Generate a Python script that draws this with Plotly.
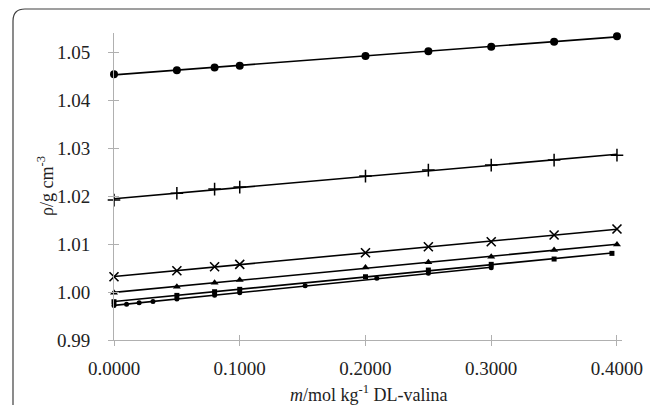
import numpy as np
import plotly.graph_objects as go

# ---- data ----
x_circ_top = [0.0, 0.05, 0.08, 0.10, 0.20, 0.25, 0.30, 0.35, 0.40]
y_circ_top = [1.04542, 1.04625, 1.04680, 1.04715, 1.04920, 1.05020, 1.05115, 1.05220, 1.05330]

x_plus = [0.0, 0.05, 0.08, 0.10, 0.20, 0.25, 0.30, 0.35, 0.40]
y_plus = [1.01917, 1.02060, 1.02146, 1.02188, 1.02417, 1.02542, 1.02646, 1.02750, 1.02854]

x_cross = [0.0, 0.05, 0.08, 0.10, 0.20, 0.25, 0.30, 0.35, 0.40]
y_cross = [1.00319, 1.00444, 1.00527, 1.00577, 1.00819, 1.00944, 1.01048, 1.01188, 1.01313]

x_tri = [0.0, 0.05, 0.08, 0.10, 0.20, 0.25, 0.30, 0.35, 0.40]
y_tri = [0.99985, 1.00111, 1.00194, 1.00250, 1.00514, 1.00619, 1.00735, 1.00875, 1.00990]

x_sq = [0.0, 0.05, 0.08, 0.10, 0.20, 0.25, 0.30, 0.35, 0.396]
y_sq = [0.99798, 0.99930, 1.00006, 1.00056, 1.00319, 1.00458, 1.00577, 1.00688, 1.00806]

x_dot = [0.0, 0.01, 0.02, 0.031, 0.05, 0.08, 0.10, 0.152, 0.209, 0.25, 0.30]
y_dot = [0.99720, 0.99745, 0.99777, 0.99805, 0.99854, 0.99935, 0.99985, 1.00131, 1.00285, 1.00389, 1.00506]

x_ticks = [0.0, 0.1, 0.2, 0.3, 0.4]
x_tick_labels = ["0.0000", "0.1000", "0.2000", "0.3000", "0.4000"]
y_ticks = [0.99, 1.00, 1.01, 1.02, 1.03, 1.04, 1.05]
y_tick_labels = ["0.99", "1.00", "1.01", "1.02", "1.03", "1.04", "1.05"]

FONT = "Liberation Serif"
TXT = "#222222"
AX = "#b0b0b0"

series = [
    (x_circ_top, y_circ_top, dict(symbol="circle", size=8, color="black")),
    (x_plus, y_plus, dict(symbol="cross-thin", size=9, color="black",
                          line=dict(width=1.5, color="black"))),
    (x_cross, y_cross, dict(symbol="x-thin", size=9, color="black",
                            line=dict(width=1.6, color="black"))),
    (x_tri, y_tri, dict(symbol="triangle-up", size=7, color="black")),
    (x_sq, y_sq, dict(symbol="square", size=5, color="black")),
    (x_dot, y_dot, dict(symbol="circle", size=5, color="black")),
]

fig = go.Figure()
for xs, ys, mk in series:
    xa = np.array(xs)
    ya = np.array(ys)
    k, b = np.polyfit(xa, ya, 1)
    xl = np.array([xa.min(), xa.max()])
    fig.add_trace(go.Scatter(x=xl, y=k * xl + b, mode="lines",
                             line=dict(color="black", width=1.6),
                             cliponaxis=False,
                             showlegend=False, hoverinfo="skip"))
    fig.add_trace(go.Scatter(x=xs, y=ys, mode="markers", marker=mk,
                             cliponaxis=False, showlegend=False))

XR = [0, 0.404]
YR = [0.99, 1.054]

fig.update_layout(
    width=650, height=397,
    margin=dict(l=106, r=36, t=25, b=65),
    paper_bgcolor="white", plot_bgcolor="white",
    font=dict(family=FONT, size=19, color=TXT),
    xaxis=dict(range=XR, tickvals=x_ticks, ticktext=x_tick_labels,
               showgrid=False, zeroline=False, showline=True,
               linecolor=AX, linewidth=1, ticks="outside", ticklen=5,
               tickcolor=AX, tickwidth=1, ticklabelstandoff=6,
               tickfont=dict(family=FONT, size=19, color=TXT)),
    yaxis=dict(range=YR, tickvals=y_ticks, ticktext=y_tick_labels,
               showgrid=False, zeroline=False, showline=True,
               linecolor=AX, linewidth=1, ticks="outside", ticklen=5,
               tickcolor=AX, tickwidth=1, ticklabelstandoff=14,
               tickfont=dict(family=FONT, size=19, color=TXT)),
    xaxis2=dict(range=XR, tickvals=x_ticks, showticklabels=False,
                overlaying="x", side="bottom", showgrid=False,
                zeroline=False, ticks="inside", ticklen=5,
                tickcolor=AX, tickwidth=1, showline=False),
    yaxis2=dict(range=YR, tickvals=y_ticks, showticklabels=False,
                overlaying="y", side="left", showgrid=False,
                zeroline=False, ticks="inside", ticklen=5,
                tickcolor=AX, tickwidth=1, showline=False),
)

fig.add_trace(go.Scatter(x=[None], y=[None], xaxis="x2", yaxis="y2",
                         showlegend=False, hoverinfo="skip"))

fig.add_annotation(text="<i>m</i>/mol kg<sup>-1</sup> DL-valina",
                   xref="paper", yref="paper", x=0.5, y=(340 - 393) / 307,
                   showarrow=False, xanchor="center", yanchor="middle",
                   font=dict(family=FONT, size=18, color=TXT))
fig.add_annotation(text="ρ/g cm<sup>-3</sup>", textangle=-90,
                   xref="paper", yref="paper", x=(45 - 114) / 508,
                   y=(340 - 186) / 307, showarrow=False,
                   xanchor="center", yanchor="middle",
                   font=dict(family=FONT, size=18, color=TXT))

# rounded chart border (paper coords); right and bottom run past the window
L, R = (13 - 114) / 508, (663 - 114) / 508
T, B = (340 - 9) / 307, (340 - 418) / 307
rx, ry = 12 / 508, 12 / 307
path = (f"M {L+rx},{T} L {R-rx},{T} Q {R},{T} {R},{T-ry} L {R},{B+ry} "
        f"Q {R},{B} {R-rx},{B} L {L+rx},{B} Q {L},{B} {L},{B+ry} "
        f"L {L},{T-ry} Q {L},{T} {L+rx},{T} Z")
fig.add_shape(type="path", path=path, xref="paper", yref="paper",
              line=dict(color="#404040", width=1.2), layer="below")

fig.write_html("out.html")
